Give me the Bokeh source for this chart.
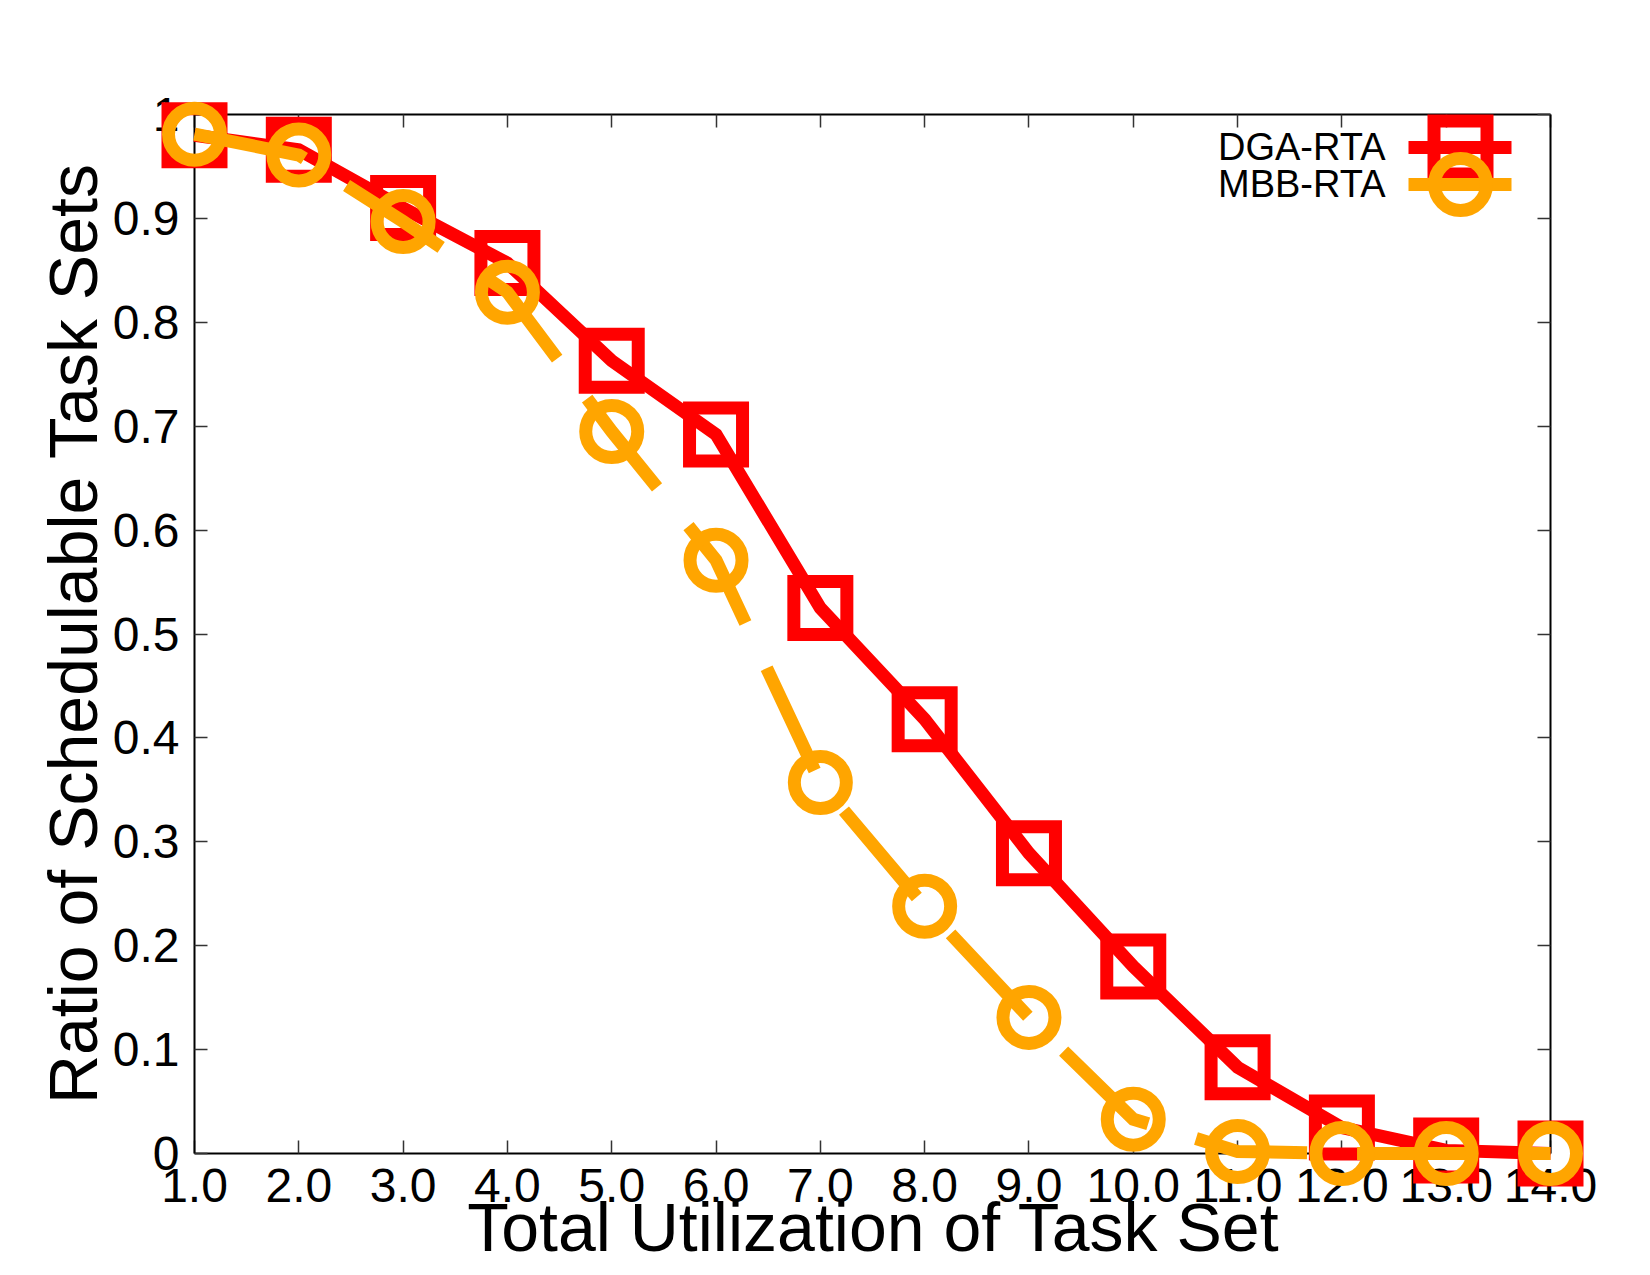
import math
from bokeh.plotting import figure
from bokeh.models import LinearAxis, FixedTicker, Range1d, Label, CustomJSTickFormatter
from bokeh.embed import file_html
from bokeh.resources import INLINE

# ---------------- data ----------------
utilization = [1.0, 2.0, 3.0, 4.0, 5.0, 6.0, 7.0, 8.0, 9.0, 10.0, 11.0, 12.0, 13.0, 14.0]
dga_rta = [0.980, 0.966, 0.910, 0.857, 0.763, 0.692, 0.525, 0.418, 0.289, 0.180, 0.083, 0.025, 0.003, 0.0]
mbb_rta = [0.981, 0.961, 0.897, 0.829, 0.695, 0.571, 0.357, 0.238, 0.131, 0.033, 0.002, 0.0, 0.0, 0.0]
x_ticks = [1, 2, 3, 4, 5, 6, 7, 8, 9, 10, 11, 12, 13, 14]
x_tick_labels = ["1.0", "2.0", "3.0", "4.0", "5.0", "6.0", "7.0", "8.0", "9.0", "10.0", "11.0", "12.0", "13.0", "14.0"]
y_ticks = [0, 0.1, 0.2, 0.3, 0.4, 0.5, 0.6, 0.7, 0.8, 0.9, 1.0]
y_tick_labels = ["0", "0.1", "0.2", "0.3", "0.4", "0.5", "0.6", "0.7", "0.8", "0.9", "1"]
series_names = ["DGA-RTA", "MBB-RTA"]
x_title = "Total Utilization of Task Set"
y_title = "Ratio of Schedulable Task Sets"

# ---------------- layout ----------------
W, H = 1650, 1275
BOX_L, BOX_R, BOX_T, BOX_B = 194, 1550, 114, 1153
XMIN, XMAX, YMIN, YMAX = 1.0, 14.0, 0.0, 1.0
sx = (BOX_R - BOX_L) / (XMAX - XMIN)
sy = (BOX_B - BOX_T) / (YMAX - YMIN)


def px_x(px):
    return XMIN + (px - BOX_L) / sx


def px_y(py):
    return YMIN + (BOX_B - py) / sy


FONT = "Liberation Sans"
RED = "#ff0000"
ORANGE = "#ffa500"

# the frame covers the whole canvas so that markers, tick labels and titles
# drawn outside the plot box are not clipped
p = figure(width=W, height=H, output_backend="svg", toolbar_location=None,
           x_range=Range1d(px_x(0), px_x(W)),
           y_range=Range1d(px_y(H), px_y(0)),
           min_border=0, min_border_left=0, min_border_right=0,
           min_border_top=0, min_border_bottom=0)
p.outline_line_color = None
p.grid.visible = False
p.background_fill_color = "white"
p.border_fill_color = "white"


def make_fmt(tick_vals, tick_labels):
    return CustomJSTickFormatter(args=dict(tvals=tick_vals, tlabels=tick_labels), code="""
        let best = 0;
        for (let i = 0; i < tvals.length; i++) {
            if (Math.abs(tvals[i] - tick) < Math.abs(tvals[best] - tick)) best = i;
        }
        return tlabels[best];
    """)


def style_axis(ax, tick_vals, tick_labels, show_labels, fixed, bounds, standoff):
    ax.ticker = FixedTicker(ticks=tick_vals)
    ax.formatter = make_fmt(tick_vals, tick_labels)
    ax.fixed_location = fixed
    ax.bounds = bounds
    ax.axis_line_color = "black"
    ax.axis_line_width = 2
    ax.major_tick_in = 13
    ax.major_tick_out = 0
    ax.major_tick_line_color = "#333333"
    ax.major_tick_line_width = 1.5
    ax.minor_tick_line_color = None
    ax.major_label_text_font = FONT
    ax.major_label_text_font_size = "48px"
    ax.major_label_text_color = "black"
    ax.major_label_standoff = standoff
    ax.level = "underlay"
    if not show_labels:
        ax.major_label_text_alpha = 0.0


style_axis(p.xaxis[0], x_ticks, x_tick_labels, True, YMIN, (XMIN, XMAX), 15)
style_axis(p.yaxis[0], y_ticks, y_tick_labels, True, XMIN, (YMIN, YMAX), 15)
top_ax = LinearAxis()
style_axis(top_ax, x_ticks, x_tick_labels, False, YMAX, (XMIN, XMAX), 4)
p.add_layout(top_ax, "above")
right_ax = LinearAxis()
style_axis(right_ax, y_ticks, y_tick_labels, False, XMAX, (YMIN, YMAX), 4)
p.add_layout(right_ax, "right")

# ---------------- series ----------------
p.line(utilization, dga_rta, line_color=RED, line_width=13, line_join="miter")
p.scatter(utilization, dga_rta, marker="square", size=53, fill_color=None,
          line_color=RED, line_width=13, line_join="miter")
p.line(utilization, mbb_rta, line_color=ORANGE, line_width=13, line_dash="113 50",
       line_join="miter")
p.scatter(utilization, mbb_rta, marker="circle", size=52, fill_color=None,
          line_color=ORANGE, line_width=13)

# ---------------- legend (gnuplot style: label left, sample right) ----------------
LEG_TEXT_R = 1385
LEG_S0, LEG_S1 = 1408, 1511
LEG_MID = 1460
LEG_ROWS = [147, 184]

p.line([px_x(LEG_S0), px_x(LEG_S1)], [px_y(LEG_ROWS[0])] * 2, line_color=RED, line_width=13)
p.scatter([px_x(LEG_MID)], [px_y(LEG_ROWS[0])], marker="square", size=53, fill_color=None,
          line_color=RED, line_width=13, line_join="miter")
p.line([px_x(LEG_S0), px_x(LEG_S1)], [px_y(LEG_ROWS[1])] * 2, line_color=ORANGE, line_width=13,
       line_dash="113 50")
p.scatter([px_x(LEG_MID)], [px_y(LEG_ROWS[1])], marker="circle", size=52, fill_color=None,
          line_color=ORANGE, line_width=13)

for name, row in zip(series_names, LEG_ROWS):
    p.add_layout(Label(x=px_x(LEG_TEXT_R), y=px_y(row - 1), text=name, text_font=FONT,
                       text_font_size="38px", text_align="right", text_baseline="middle",
                       text_color="black"))

# ---------------- axis titles ----------------
p.add_layout(Label(x=px_x(873), y=px_y(1226), text=x_title, text_font=FONT,
                   text_font_size="68px", text_align="center", text_baseline="middle",
                   text_color="black"))
p.add_layout(Label(x=px_x(72), y=px_y(633), text=y_title, text_font=FONT,
                   text_font_size="68px", text_align="center", text_baseline="middle",
                   angle=math.pi / 2, text_color="black"))

open("out.html", "w").write(file_html(p, INLINE))
